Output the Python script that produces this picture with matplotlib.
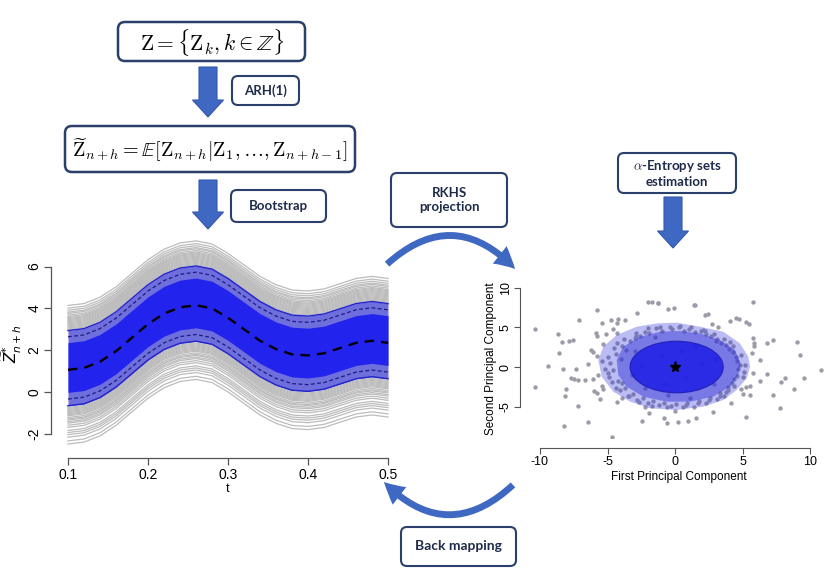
import matplotlib
matplotlib.use("Agg")
import matplotlib.pyplot as plt
from matplotlib.patches import FancyBboxPatch, FancyArrowPatch, Polygon, Ellipse

plt.rcParams["mathtext.fontset"] = "cm"
plt.rcParams["axes.unicode_minus"] = False

# ---------------- left panel: bootstrap curves ----------------
t_grid = [0.10, 0.12, 0.14, 0.16, 0.18, 0.20, 0.22, 0.24, 0.26, 0.28, 0.30,
          0.32, 0.34, 0.36, 0.38, 0.40, 0.42, 0.44, 0.46, 0.48, 0.50]
mean_curve = [1.06, 1.15, 1.45, 1.95, 2.60, 3.25, 3.75, 4.05, 4.15, 4.00, 3.55,
              3.00, 2.45, 2.05, 1.80, 1.75, 1.85, 2.10, 2.35, 2.45, 2.35]
# vertical shifts of the bootstrap curves and of the band limits
gray_shifts = [1.95, 2.00, 2.05, 2.10, 2.15, 2.20, 2.25, 2.30, 2.35, 2.40, 2.45,
               2.50, 2.55, 2.62, 2.70, 2.76, 2.85, 2.95, 3.08,
               -1.80, -1.85, -1.90, -1.95, -2.00, -2.05, -2.10, -2.15, -2.20,
               -2.28, -2.35, -2.40, -2.48, -2.55, -2.65, -2.75, -2.90, -3.00,
               -3.10, -3.22, -3.40, -3.55]
solid_band = [1.88, -1.72]
dashed_band = [1.58, -1.40]
core_band = [1.30, -1.08]

# ---------------- right panel: PC scores ----------------
pc1 = [-10.37, -8.64, -8.35, -7.83, -7.53, -7.09, -8.57, -9.38, -8.27, -7.33,
       -10.37, -8.10, -8.12, -7.73, -7.48, -7.16, -6.67, -6.10, -5.68, -6.42,
       -6.25, -5.80, -6.05, -5.36, -5.75, -4.74, -4.25, -4.27, -3.70, -2.84,
       -1.98, -1.28, -0.52, -0.07, -5.75, -5.85, -5.11, -5.41, -4.57, -4.32,
       -7.19, -6.42, -8.20, -4.69, -5.56, -5.75, -6.00, -5.31, -5.41, -4.32,
       -3.95, -2.47, -2.22, -1.93, -0.81, -0.62,
       1.41, 5.80, 2.22, 2.47, 2.72, 3.16, 4.07, 4.49, 4.72, 5.26, 5.48, 5.80,
       5.88, 5.85, 5.70, 6.84, 7.23, 9.01, 9.26, 6.30, 10.81, 5.80, 6.30, 6.79,
       8.15, 7.83, 9.58, 8.81, 7.28, 5.56, 5.56, 4.86, 5.01, 5.26, 4.12, 7.78,
       5.26, 2.84, 1.56, 0.99, 0.25, 0.00, 1.48, -1.73, -1.23,
       -4.8, -4.6, -4.4, -4.2, -3.9, -3.7, -3.3, -3.1, -2.6, -2.4, -1.9, -1.6,
       -1.0, -0.8, -0.2, 0.1, 0.7, 0.9, 1.5, 1.8, 2.3, 2.6, 3.1, 3.3, 3.8, 3.9,
       4.3, 4.4, 4.6, 4.7, -5.2, -5.0, -4.9, -4.5, -4.4, -3.8, -3.5, -2.9, -2.7,
       -2.0, -1.7, -1.1, -0.6, 0.4, 0.6, 1.2, 1.4, 2.1, 2.3, 2.9, 3.1, 3.6, 3.8,
       4.3, 4.4, 4.9, 5.0, 5.2, -5.4, -3.0, 2.9, -2.2, 1.5, -1.0, 0.8, 2.0, -2.5,
       0.5, -0.7, 3.0, -3.2]
pc2 = [4.75, 4.20, 3.15, 3.32, 3.40, 5.88, 1.81, 0.13, -0.21, -0.29,
       -2.48, -2.73, -3.66, -1.34, -1.55, -1.64, -1.64, -1.47, -1.05, 0.34,
       2.14, 1.39, 1.89, 2.86, 7.18, 5.92, 6.00, 5.50, 5.88, 6.76,
       8.24, 8.11, 7.27, 7.48, 3.91, 4.33, 4.12, 5.59, 4.75, 4.24,
       -4.92, -6.93, -7.44, -8.87, -4.08, -3.24, -3.03, -2.82, -2.39, -4.37,
       -3.87, -6.81, -5.00, -5.84, -6.39, -7.02,
       7.82, 8.19, 6.55, 6.72, 5.38, 5.08, 5.80, 6.18, 6.09, 5.71, 5.42, 3.61,
       3.07, 2.65, 1.81, 3.07, 3.40, 3.19, 1.47, 0.84, -0.38, -0.71, -1.76, -0.92,
       -1.34, -1.89, -1.34, -2.82, -3.57, -2.39, -3.57, -2.82, -3.45, -2.52, -4.50, -5.17,
       -6.26, -5.67, -6.39, -6.81, -6.93, -5.55, 7.80, 8.24, 8.11,
       0.5, -0.4, 1.6, -1.8, 2.6, -2.7, 3.3, -3.4, 3.9, -3.9, 4.3, -4.3,
       4.6, -4.5, 4.8, -4.7, 4.6, -4.6, 4.4, -4.3, 4.1, -3.9, 3.5, -3.3, 2.8, -2.5,
       1.9, -1.5, 0.8, -0.3, -0.2, 1.2, -1.3, 2.4, -2.6, 3.5, -3.6, 4.3, -4.4,
       4.9, -4.9, 5.1, -5.0, 5.2, -5.1, 5.0, -5.0, 4.7, -4.6, 4.2, -4.0, 3.5, -3.2,
       2.7, -2.4, 1.5, -1.2, 0.3, 0.8, 2.0, -2.2, -2.6, 2.6, 1.5, -1.2, 0.5, 0.2,
       2.0, -2.2, 1.0, -1.0]
ring_x = [-4.0, -3.6, -3.0, -2.2, -1.4, -0.4, 0.3, 1.0, 1.9, 2.7,
          3.4, 4.0, 4.5, 4.8, 5.1, -5.0, -4.7, -4.1, -3.4, -2.8,
          -2.0, -1.2, -0.3, 0.8, 1.7, 2.5, 3.3, 3.9, 4.2, 4.6,
          -4.3, -3.9, 4.1, 3.6, -1.5, 1.1, -0.5, 2.2, -2.9, 3.0]
ring_y = [1.0, 2.2, 3.7, 4.4, 4.9, 5.0, 5.1, 4.8, 4.5, 3.9,
          3.0, 2.3, 1.2, 0.2, -0.6, -0.8, -1.9, -2.9, -3.7, -4.1,
          -4.6, -4.8, -4.9, -4.8, -4.5, -4.2, -3.6, -2.9, -2.0, -1.1,
          3.0, -2.0, 3.2, -3.6, 3.8, -3.9, -3.5, 4.5, 3.9, 3.3]
outer_set_x = [-5.68, -5.31, -4.32, -2.84, -1.36, 0.12, 1.85, 3.58, 4.81, 5.43,
               5.56, 5.31, 4.57, 3.58, 2.10, 0.12, -1.85, -3.33, -4.57, -5.43]
outer_set_y = [0.88, 2.56, 4.03, 5.08, 5.50, 5.59, 5.08, 4.45, 2.98, 1.30,
               0.04, -1.43, -2.90, -4.16, -5.00, -5.42, -5.21, -4.37, -3.11, -1.22]
mid_set_x = [-4.32, -3.83, -2.59, -1.11, 0.37, 1.85, 3.33, 4.44, 4.86, 4.69,
             4.07, 2.84, 1.11, -0.62, -2.35, -3.58, -4.20]
mid_set_y = [0.88, 2.56, 3.82, 4.45, 4.54, 4.24, 3.40, 2.14, 0.46, -1.01,
             -2.48, -3.74, -4.37, -4.37, -3.74, -2.48, -1.01]
inner_set = [0.12, 0.0, 6.9, 6.5]  # centre x, centre y, width, height

W, H = 830, 587
fig = plt.figure(figsize=(W / 100, H / 100), dpi=100)

# canvas in pixel units for the flow diagram
ax0 = fig.add_axes([0, 0, 1, 1])
ax0.set_xlim(0, W)
ax0.set_ylim(H, 0)
ax0.axis("off")

EDGE = "#2b3f6b"
TXT = "#1f2b4a"
ARROW = "#3f68c2"


def box(x0, y0, x1, y1, lw=1.8, r=7):
    ax0.add_patch(FancyBboxPatch((x0, y0), x1 - x0, y1 - y0,
                                 boxstyle="round,pad=0,rounding_size=%g" % r,
                                 facecolor="white", edgecolor=EDGE, lw=lw))


def label(x0, y0, x1, y1, s, size=9.5):
    box(x0, y0, x1, y1, lw=1.5, r=6)
    ax0.text((x0 + x1) / 2, (y0 + y1) / 2, s, ha="center", va="center",
             fontsize=size, fontweight="bold", family="Lato", color=TXT,
             linespacing=1.25)


def down_arrow(xc, ytop, ytip, sw=18, hw=31, hl=17):
    pts = [(xc - sw / 2, ytop), (xc + sw / 2, ytop), (xc + sw / 2, ytip - hl),
           (xc + hw / 2, ytip - hl), (xc, ytip), (xc - hw / 2, ytip - hl),
           (xc - sw / 2, ytip - hl)]
    ax0.add_patch(Polygon(pts, closed=True, facecolor=ARROW,
                          edgecolor="#3359ad", lw=0.8))


box(118, 22, 305, 61)
ax0.text(212, 42, r"$\mathrm{Z} = \{\mathrm{Z}_k, k \in \mathbb{Z}\}$",
         ha="center", va="center", fontsize=15.5, color="black")
down_arrow(208, 67, 117)
label(232, 76, 299, 105, "ARH(1)")

box(65, 126, 355, 172)
ax0.text(210, 150,
         r"$\widetilde{\mathrm{Z}}_{n+h} = \mathbb{E}[\mathrm{Z}_{n+h}|"
         r"\mathrm{Z}_1,\ldots,\mathrm{Z}_{n+h-1}]$",
         ha="center", va="center", fontsize=14.5, color="black")
down_arrow(208, 180, 229)
label(231, 190, 326, 222, "Bootstrap")

label(391, 173, 507, 227, "RKHS\nprojection")
label(618, 153, 736, 193, r"$\alpha$-Entropy sets" + "\nestimation")
down_arrow(673, 197, 248)
label(401, 527, 516, 566, "Back mapping", size=10)

arc_style = "simple,head_length=0.75,head_width=0.8,tail_width=0.24"
ax0.add_patch(FancyArrowPatch((385, 266), (517, 271),
                              connectionstyle="arc3,rad=-0.5",
                              arrowstyle=arc_style, mutation_scale=20,
                              color=ARROW, lw=0))
ax0.add_patch(FancyArrowPatch((515, 483), (382, 480),
                              connectionstyle="arc3,rad=-0.5",
                              arrowstyle=arc_style, mutation_scale=20,
                              color=ARROW, lw=0))

# ---------------- left plot ----------------
L0, L1, LT, LB = 62, 394, 239.4, 448.4
ax1 = fig.add_axes([L0 / W, 1 - LB / H, (L1 - L0) / W, (LB - LT) / H])
ax1.set_xlim(0.0925, 0.5075)
ax1.set_ylim(-2.7, 7.3)

for s in gray_shifts:
    ax1.plot(t_grid, [m + s for m in mean_curve], color="#bcbcbc", lw=0.9,
             zorder=1)
ax1.fill_between(t_grid, [m + solid_band[0] for m in mean_curve],
                 [m + solid_band[1] for m in mean_curve],
                 color="#6e6edc", lw=0, zorder=2)
ax1.fill_between(t_grid, [m + core_band[0] for m in mean_curve],
                 [m + core_band[1] for m in mean_curve],
                 color="#2323ee", lw=0, zorder=3)
for s in dashed_band:
    ax1.plot(t_grid, [m + s for m in mean_curve], color="#1c1c80", lw=0.9,
             ls=(0, (3, 2)), zorder=4)
for s in solid_band:
    ax1.plot(t_grid, [m + s for m in mean_curve], color="#2525c8", lw=1.1,
             zorder=4)
ax1.plot(t_grid, mean_curve, color="black", lw=1.7, ls=(0, (4, 3)), zorder=5)

for sp in ["top", "right"]:
    ax1.spines[sp].set_visible(False)
ax1.spines["left"].set_position(("outward", 8))
ax1.spines["bottom"].set_position(("outward", 7))
ax1.spines["left"].set_bounds(-2, 6)
ax1.spines["bottom"].set_bounds(0.1, 0.5)
for sp in ["left", "bottom"]:
    ax1.spines[sp].set_color("#555555")
    ax1.spines[sp].set_linewidth(0.9)
ax1.set_xticks([0.1, 0.2, 0.3, 0.4, 0.5])
ax1.set_yticks([-2, 0, 2, 4, 6])
ax1.tick_params(length=5, width=0.9, color="#555555", labelsize=10, pad=2)
for lab in ax1.get_xticklabels() + ax1.get_yticklabels():
    lab.set_family("Liberation Sans")
for lab in ax1.get_yticklabels():
    lab.set_rotation(90)
    lab.set_va("center")
ax1.set_xlabel("t", fontsize=9, family="Liberation Sans", labelpad=0.5)
ax1.set_ylabel(r"$\widetilde{Z}^{*}_{n+h}$", fontsize=11, labelpad=2,
               math_fontfamily="dejavusans")
ax1.patch.set_alpha(0)

# ---------------- right plot ----------------
R0, R1, RT, RB = 530, 828, 280, 438
ax2 = fig.add_axes([R0 / W, 1 - RB / H, (R1 - R0) / W, (RB - RT) / H])
ax2.set_xlim(-10.74, 11.33)
ax2.set_ylim(-8.95, 10.97)
ax2.scatter(pc1, pc2, s=10, color="#9c9ca8", lw=0, zorder=1)
ax2.scatter(ring_x, ring_y, s=10, color="#9c9ca8", lw=0, zorder=1)
ax2.add_patch(Polygon(list(zip(outer_set_x, outer_set_y)), closed=True,
                      facecolor="#3434e0", alpha=0.33, lw=0, zorder=2))
ax2.add_patch(Polygon(list(zip(mid_set_x, mid_set_y)), closed=True,
                      facecolor="#3030d8", alpha=0.48, lw=0, zorder=3))
ax2.add_patch(Ellipse((inner_set[0], inner_set[1]), inner_set[2], inner_set[3],
                      facecolor="#2020e6", edgecolor="#1c1cb0", lw=0.8,
                      alpha=0.88, zorder=4))
ax2.plot([0], [0], marker="*", color="black", ms=8, lw=0, zorder=5)

for sp in ["top", "right"]:
    ax2.spines[sp].set_visible(False)
ax2.spines["left"].set_position(("outward", 7))
ax2.spines["bottom"].set_position(("outward", 7))
ax2.spines["left"].set_bounds(-5, 10)
ax2.spines["bottom"].set_bounds(-10, 10)
for sp in ["left", "bottom"]:
    ax2.spines[sp].set_color("#555555")
    ax2.spines[sp].set_linewidth(0.8)
ax2.set_xticks([-10, -5, 0, 5, 10])
ax2.set_yticks([-5, 0, 5, 10])
ax2.tick_params(length=4, width=0.8, color="#555555", labelsize=9, pad=2)
for lab in ax2.get_xticklabels() + ax2.get_yticklabels():
    lab.set_family("Liberation Sans")
for lab in ax2.get_yticklabels():
    lab.set_rotation(90)
    lab.set_va("center")
ax2.set_xlabel("First Principal Component", fontsize=8.5,
               family="Liberation Sans", labelpad=2)
ax2.set_ylabel("Second Principal Component", fontsize=8.5,
               family="Liberation Sans", labelpad=2)
ax2.patch.set_alpha(0)

fig.savefig("out.png", dpi=100)
